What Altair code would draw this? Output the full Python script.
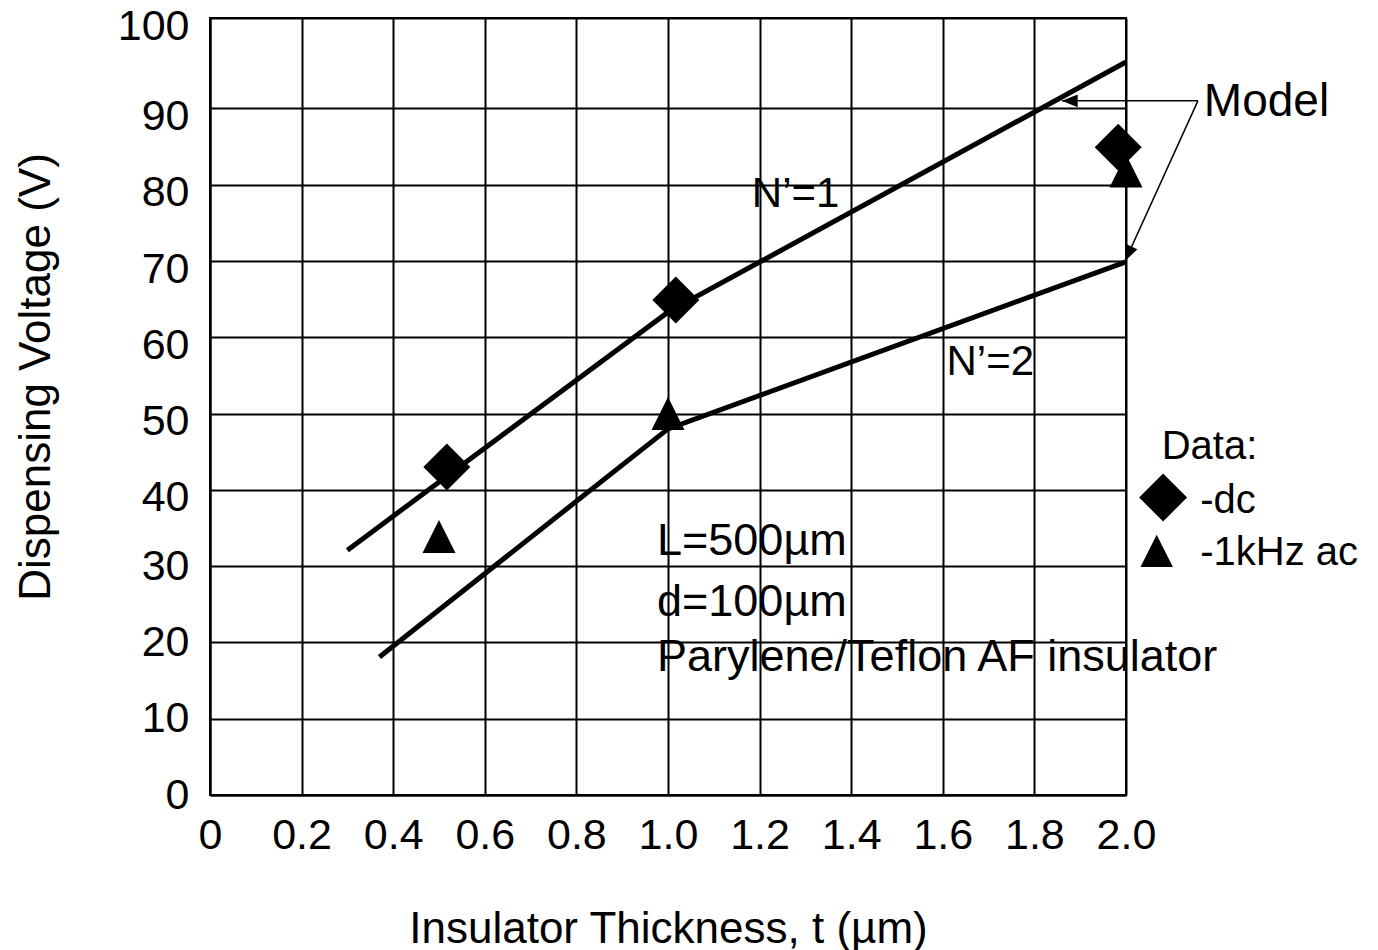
import json
import altair as alt
import pandas as pd

FONT = "Liberation Sans"

# ---- axes ----
X_TICKS = [0, 0.2, 0.4, 0.6, 0.8, 1.0, 1.2, 1.4, 1.6, 1.8, 2.0]
X_TICK_LABELS = ["0", "0.2", "0.4", "0.6", "0.8", "1.0", "1.2", "1.4", "1.6", "1.8", "2.0"]
# the original figure's frame top (labelled 100) sits above the regular 10-V spacing
Y_FRAME_TOP = 101.86
Y_TICKS = [0, 10, 20, 30, 40, 50, 60, 70, 80, 90, Y_FRAME_TOP]
Y_TICK_LABELS = ["0", "10", "20", "30", "40", "50", "60", "70", "80", "90", "100"]

# ---- model curves ----
N1_T = [0.30, 1.0, 2.0]
N1_V = [32.1, 63.3, 96.1]
N2_T = [0.37, 1.0, 2.0]
N2_V = [18.1, 48.0, 69.9]

# ---- measured data ----
DC_T = [0.517, 1.017, 1.983]
DC_V = [43.0, 64.9, 84.9]
AC_T = [0.50, 1.0, 2.0]
AC_V = [33.9, 50.0, 81.8]

# ---- annotations ----
TEXTS = ["N\u2019=1", "N\u2019=2", "L=500\u00b5m", "d=100\u00b5m",
         "Parylene/Teflon AF insulator", "Model", "Data:", "-dc", "-1kHz ac"]
TEXT_T = [1.183, 1.608, 0.976, 0.976, 0.976, 2.170, 2.078, 2.162, 2.162]
TEXT_V = [79.2, 57.1, 33.7, 25.7, 18.5, 91.2, 46.0, 38.9, 32.1]
TEXT_SIZE = [42, 42, 45, 45, 45, 46, 40, 40, 40]

ARROW_FROM = (2.157, 91.0)
ARROW_TIP_T = [1.860, 1.998]
ARROW_TIP_V = [91.0, 70.0]
ARROW_ANGLE = [270, 204.5]

LEGEND_DIAMOND = (2.081, 39.0)
LEGEND_TRIANGLE = (2.067, 32.0)

TRI_PATH = "M0,-1L1,1L-1,1Z"
HEAD_PATH = "M0,0L-0.4,1L0.4,1Z"


def label_expr(vals, labels):
    return f"{json.dumps(labels)}[indexof({json.dumps(vals)}, datum.value)]"


xscale = alt.Scale(domain=[0, 2], nice=False, zero=False)
yscale = alt.Scale(domain=[0, Y_FRAME_TOP], nice=False, zero=False)

common_axis = dict(
    grid=True, gridColor="black", gridWidth=2, gridOpacity=1,
    domainColor="black", domainWidth=2, ticks=False,
    labelFont=FONT, labelFontSize=43, labelColor="black",
    labelOverlap=False, labelFlush=False,
    titleFont=FONT, titleFontSize=44, titleFontWeight="normal", titleColor="black",
)

x_axis = alt.Axis(values=X_TICKS, labelExpr=label_expr(X_TICKS, X_TICK_LABELS),
                  labelPadding=19, title="Insulator Thickness, t (\u00b5m)",
                  titleY=147, titleBaseline="alphabetic", **common_axis)
y_axis = alt.Axis(values=Y_TICKS, labelExpr=label_expr(Y_TICKS, Y_TICK_LABELS),
                  labelPadding=21, title="Dispensing Voltage (V)",
                  labelOffset={"condition": {"test": "datum.value >= 35", "value": 8}, "value": 0},
                  titleX=-161, titleY=358.5, titleAngle=270, titleAlign="center",
                  titleBaseline="alphabetic", **common_axis)

model_df = pd.DataFrame({
    "t": N1_T + N2_T,
    "v": N1_V + N2_V,
    "series": ["N1"] * len(N1_T) + ["N2"] * len(N2_T),
})
dc_df = pd.DataFrame({"t": DC_T, "v": DC_V})
ac_df = pd.DataFrame({"t": AC_T, "v": AC_V})
text_df = pd.DataFrame({"text": TEXTS, "t": TEXT_T, "v": TEXT_V, "fs": TEXT_SIZE})
arrow_df = pd.DataFrame({
    "t": [ARROW_FROM[0]] * 2, "v": [ARROW_FROM[1]] * 2,
    "t2": ARROW_TIP_T, "v2": ARROW_TIP_V, "angle": ARROW_ANGLE,
})
leg_d = pd.DataFrame({"t": [LEGEND_DIAMOND[0]], "v": [LEGEND_DIAMOND[1]]})
leg_t = pd.DataFrame({"t": [LEGEND_TRIANGLE[0]], "v": [LEGEND_TRIANGLE[1]]})

X = lambda f="t": alt.X(f"{f}:Q", scale=xscale, axis=x_axis)
Y = lambda f="v": alt.Y(f"{f}:Q", scale=yscale, axis=y_axis)

lines = alt.Chart(model_df).mark_line(color="black", strokeWidth=5).encode(
    x=X(), y=Y(), detail="series:N", order=alt.Order("t:Q"))

diamonds = alt.Chart(dc_df).mark_point(shape="diamond", filled=True, color="black",
                                       size=2209, opacity=1).encode(x=X(), y=Y())
triangles = alt.Chart(ac_df).mark_point(shape=TRI_PATH, filled=True, color="black",
                                        size=1090, opacity=1).encode(x=X(), y=Y())

leg_dia = alt.Chart(leg_d).mark_point(shape="diamond", filled=True, color="black",
                                      size=2300, opacity=1).encode(x=X(), y=Y())
leg_tri = alt.Chart(leg_t).mark_point(shape=TRI_PATH, filled=True, color="black",
                                      size=1050, opacity=1).encode(x=X(), y=Y())

arrow_lines = alt.Chart(arrow_df).mark_rule(color="black", strokeWidth=1.5).encode(
    x=X(), y=Y(), x2="t2:Q", y2="v2:Q")
arrow_heads = alt.Chart(arrow_df).mark_point(shape=HEAD_PATH, filled=True, color="black",
                                             size=1000, opacity=1).encode(
    x=X("t2"), y=Y("v2"), angle=alt.Angle("angle:Q", scale=None))

texts = alt.Chart(text_df).mark_text(align="left", baseline="middle", font=FONT,
                                     color="black", dy=3).encode(
    x=X(), y=Y(), text="text:N", size=alt.Size("fs:Q", scale=None))

chart = alt.layer(
    lines, arrow_lines, arrow_heads, diamonds, triangles, leg_dia, leg_tri, texts
).properties(
    width=916, height=777,
    padding={"left": 210, "top": 18, "right": 252, "bottom": 155},
    autosize=alt.AutoSizeParams(type="none"),
    background="white",
).configure_view(stroke="black", strokeWidth=2)

chart.save("out.html", embed_options={"renderer": "svg", "actions": False})
